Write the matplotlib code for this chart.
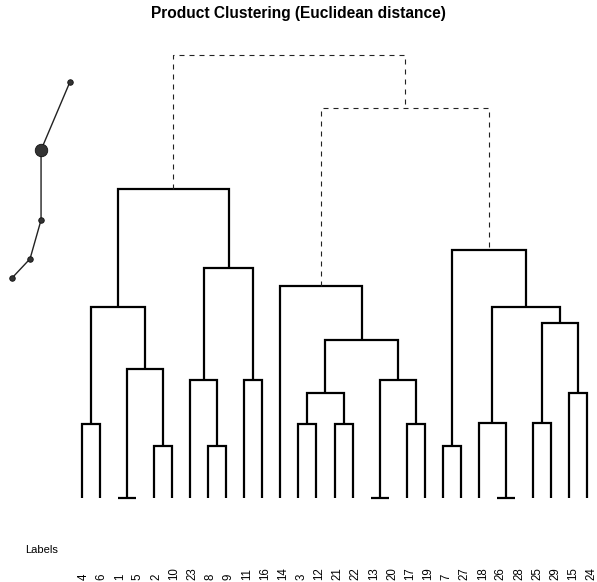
import matplotlib
matplotlib.use("Agg")
import matplotlib.pyplot as plt

plt.rcParams['font.family'] = ['Liberation Sans', 'DejaVu Sans']

# -------- Data -------- #
leaf_labels = ['4', '6', '1', '5', '2', '10', '23', '8', '9', '11', '16',
               '14', '3', '12', '21', '22', '13', '20', '17', '19',
               '7', '27', '18', '26', '28', '25', '29', '15', '24']

# merges: ids 0..28 are leaves, merge k gets id 29 + k
merge_left = [2, 16, 23, 4, 7, 20, 0, 12, 14, 18, 22, 25, 27, 36, 6, 9, 30,
              29, 42, 40, 35, 39, 11, 43, 34, 49, 51, 54]
merge_right = [3, 17, 24, 5, 8, 21, 1, 13, 15, 19, 31, 26, 28, 37, 33, 10, 38,
               32, 45, 41, 46, 48, 47, 44, 50, 52, 53, 55]
merge_height = [0.0, 0.0, 0.0, 1.30, 1.30, 1.30, 1.85, 1.85, 1.85, 1.85,
                1.88, 1.88, 2.63, 2.63, 2.95, 2.95, 2.95, 3.23, 3.95, 4.38,
                4.78, 4.78, 5.30, 5.75, 6.20, 7.73, 9.75, 11.08]
n_dashed = 2  # top merges drawn above the 3-cluster cut

# small curve drawn at the left edge
curve_x = [-0.67, -2.27, -2.27, -2.88, -3.88]
curve_y = [10.4, 8.7, 6.95, 5.98, 5.5]
curve_size = [4, 9, 4, 4, 4]

# -------- Figure -------- #
fig = plt.figure(figsize=(5.97, 5.82), dpi=100)
ax = fig.add_axes([0, 0, 1, 1])
ax.set_xlim(-4.546, 28.554)
ax.set_ylim(-2.1, 12.45)
ax.axis('off')

n = len(leaf_labels)
xpos = {i: float(i) for i in range(n)}
ypos = {i: 0.0 for i in range(n)}

for k, (a, b, h) in enumerate(zip(merge_left, merge_right, merge_height)):
    node = n + k
    dashed = k >= len(merge_height) - n_dashed
    xs = [xpos[a], xpos[a], xpos[b], xpos[b]]
    ys = [ypos[a], h, h, ypos[b]]
    if dashed:
        ax.plot(xs, ys, color='#222222', lw=0.8, dashes=(4.5, 4.5),
                solid_joinstyle='miter')
    else:
        ax.plot(xs, ys, color='black', lw=1.6, solid_joinstyle='miter',
                solid_capstyle='butt')
    xpos[node] = (xpos[a] + xpos[b]) / 2
    ypos[node] = h

ax.plot(curve_x, curve_y, color='#222222', lw=1.0, zorder=3)
for cx, cy, s in zip(curve_x, curve_y, curve_size):
    ax.plot(cx, cy, 'o', color='#333333', ms=s, mec='#111111', mew=0.6, zorder=4)

# -------- Labels -------- #
lab_ax = fig.add_axes([0, 0, 1, 1])
lab_ax.set_xlim(-4.6, 28.3)
lab_ax.set_ylim(0, 582)
lab_ax.axis('off')
for i, lab in enumerate(leaf_labels):
    lab_ax.text(i, 2, lab, rotation=90, ha='center', va='bottom', fontsize=8.3)
lab_ax.text(-3.2, 32, 'Labels', ha='left', va='center', fontsize=8)

fig.suptitle('Product Clustering (Euclidean distance)', y=0.99,
             fontsize=11.2, fontweight='bold')

fig.savefig('out.png', dpi=100)
